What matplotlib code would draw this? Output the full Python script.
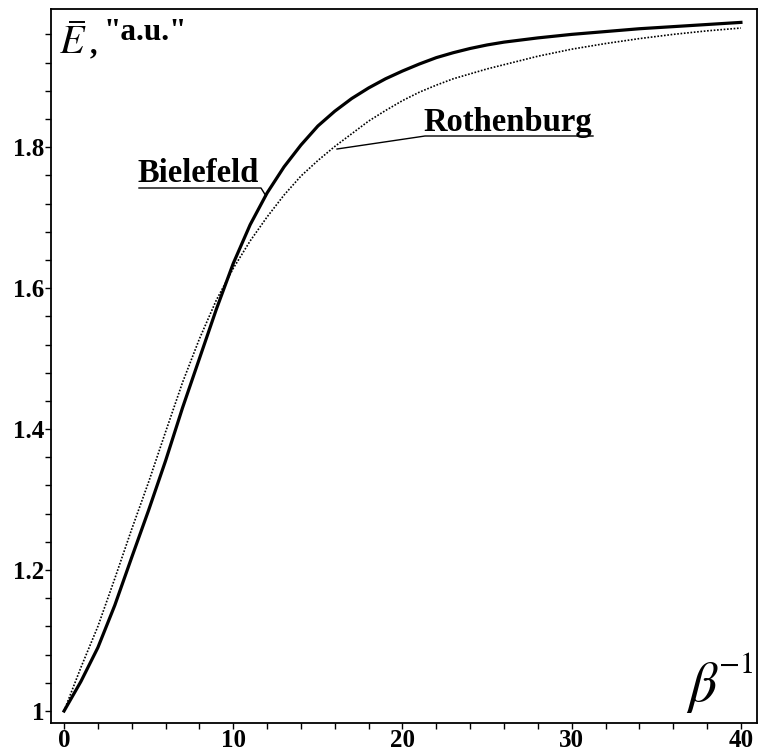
import matplotlib
matplotlib.use("Agg")
import matplotlib.pyplot as plt
from matplotlib.lines import Line2D
from matplotlib.ticker import MultipleLocator, FuncFormatter

# Data
x_vals = [0, 1, 2, 3, 4, 5, 6, 7, 8, 9, 10, 11, 12, 13, 14, 15, 16, 17, 18, 19,
          20, 21, 22, 23, 24, 25, 26, 28, 30, 32, 34, 36, 38, 40]
bielefeld = [1.000, 1.042, 1.090, 1.150, 1.218, 1.285, 1.355, 1.430, 1.500, 1.570,
             1.635, 1.690, 1.735, 1.772, 1.803, 1.830, 1.851, 1.869, 1.884, 1.897,
             1.908, 1.918, 1.927, 1.934, 1.940, 1.945, 1.949, 1.955, 1.960, 1.964,
             1.968, 1.971, 1.974, 1.977]
rothenburg = [1.000, 1.062, 1.120, 1.188, 1.258, 1.325, 1.396, 1.466, 1.528, 1.583,
              1.628, 1.667, 1.701, 1.732, 1.759, 1.781, 1.801, 1.819, 1.837, 1.852,
              1.866, 1.878, 1.888, 1.897, 1.904, 1.911, 1.917, 1.929, 1.939, 1.947,
              1.954, 1.960, 1.965, 1.969]
x_ticks = [0, 10, 20, 30, 40]
y_ticks = [1.0, 1.2, 1.4, 1.6, 1.8]

plt.rcParams['mathtext.fontset'] = 'stix'

W, H = 759, 752
fig = plt.figure(figsize=(W/100, H/100), dpi=100)
ax = fig.add_axes([51/W, 1-723/H, (757-51)/W, (723-9)/H])

ax.plot(x_vals, bielefeld, color='black', lw=2.3, solid_joinstyle='round')
ax.plot(x_vals, rothenburg, color='black', lw=1.2, linestyle=(0, (1, 1)))

ax.set_xlim(-0.77, 40.95)
ax.set_ylim(0.983, 1.996)

ax.set_xticks(x_ticks)
ax.set_yticks(y_ticks)
ax.xaxis.set_minor_locator(MultipleLocator(2))
ax.yaxis.set_minor_locator(MultipleLocator(0.04))
ax.yaxis.set_major_formatter(FuncFormatter(lambda v, p: f"{v:g}"))

for s in ax.spines.values():
    s.set_linewidth(1.3)
ax.tick_params(which='both', direction='out', length=4, width=1.0, top=False, right=False)
ax.tick_params(axis='x', pad=0)
ax.tick_params(axis='y', pad=1)
for lab in ax.get_xticklabels() + ax.get_yticklabels():
    lab.set_fontfamily('Liberation Serif')
    lab.set_fontweight('bold')
    lab.set_fontsize(18)

def fx(px):
    return px / W

def fy(py):
    return 1 - py / H

# y-axis title inside the plot: E with bar, then ,"a.u."
fig.text(fx(59), fy(53), r'$E$', fontsize=29, ha='left', va='baseline')
fig.add_artist(Line2D([fx(70), fx(84)], [fy(22), fy(22)], color='black', lw=1.4))
fig.text(fx(90), fy(53), ',', fontsize=22, fontweight='bold',
         family='Liberation Serif', ha='left', va='baseline')
fig.text(fx(104), fy(40), '"a.u."', fontsize=22.5, fontweight='bold',
         family='Liberation Serif', ha='left', va='baseline')

# x-axis title inside the plot
fig.text(fx(686), fy(701), r'$\beta$', fontsize=40, ha='left', va='baseline')
fig.text(fx(719), fy(673), '\u22121', fontsize=22, family='STIXGeneral',
         ha='left', va='baseline')

# Annotations with underline + leader
fig.text(fx(137), fy(182), 'Bielefeld', fontsize=23.5, fontweight='bold',
         family='Liberation Serif', ha='left', va='baseline')
fig.text(fx(423), fy(131), 'Rothenburg', fontsize=23.5, fontweight='bold',
         family='Liberation Serif', ha='left', va='baseline')

fig.add_artist(Line2D([fx(139), fx(261), fx(266)], [fy(188), fy(188), fy(196)],
                      color='black', lw=1.0))
fig.add_artist(Line2D([fx(593), fx(425), fx(337)], [fy(136), fy(136), fy(149)],
                      color='black', lw=1.0))

fig.savefig('out.png', dpi=100)
